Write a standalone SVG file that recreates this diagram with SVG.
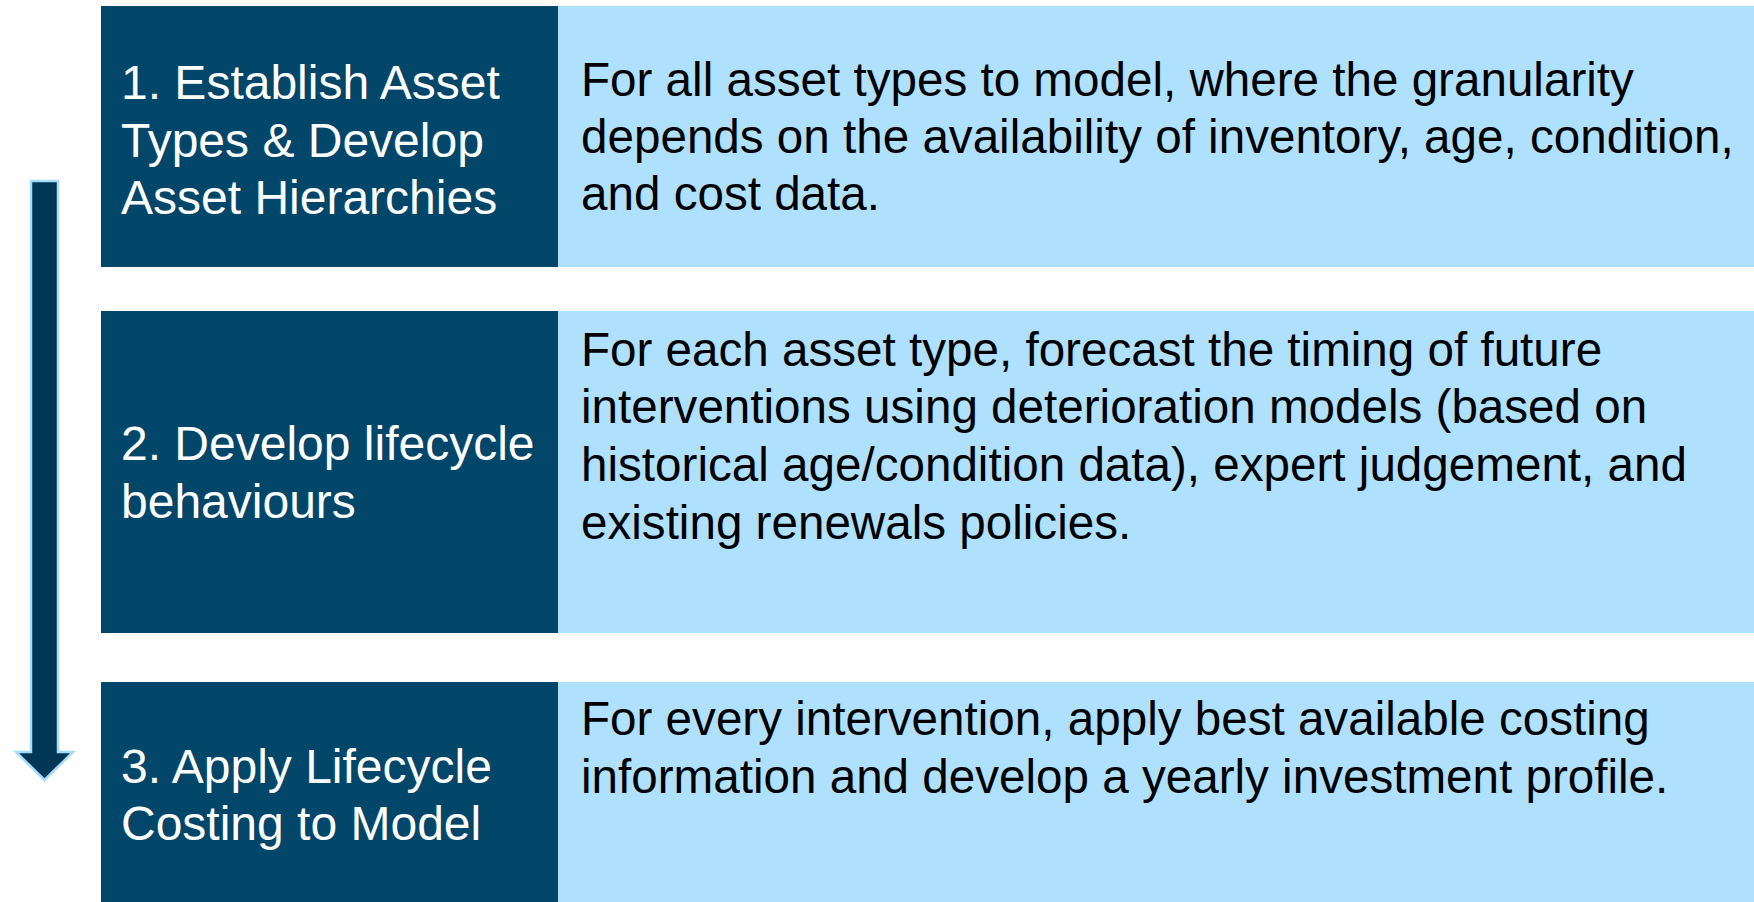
<svg xmlns="http://www.w3.org/2000/svg" width="1754" height="902" viewBox="0 0 1754 902">
<style>
.dark{fill:#02466A}
.light{fill:#AFE1FE}
.t{font-family:"Liberation Sans",Arial,sans-serif;font-size:48px}
.r{font-size:47.6px}
.w{fill:#FFFFFF}
.b{fill:#000000}
</style>
<rect width="1754" height="902" fill="#FFFFFF"/>
<g id="connectors">
<polygon points="31,181 58,181 58,752 73,752 44.5,780 16,752 31,752" fill="#013655" stroke="#A6DCF9" stroke-width="2.5" stroke-linejoin="miter"/>
</g>
<g id="step1">
<rect class="dark" x="101" y="6" width="457" height="261"/>
<rect class="light" x="558" y="6" width="1196" height="261"/>
<text class="t w" x="121"><tspan x="121" y="99">1. Establish Asset</tspan><tspan x="121" y="157">Types &amp; Develop</tspan><tspan x="121" y="214">Asset Hierarchies</tspan></text>
<text class="t r b" x="581"><tspan x="581" y="96">For all asset types to model, where the granularity</tspan><tspan x="581" y="153">depends on the availability of inventory, age, condition,</tspan><tspan x="581" y="210">and cost data.</tspan></text>
</g>
<g id="step2">
<rect class="dark" x="101" y="311" width="457" height="322"/>
<rect class="light" x="558" y="311" width="1196" height="322"/>
<text class="t w" x="121"><tspan x="121" y="460">2. Develop lifecycle</tspan><tspan x="121" y="518">behaviours</tspan></text>
<text class="t r b" x="581"><tspan x="581" y="366">For each asset type, forecast the timing of future</tspan><tspan x="581" y="423">interventions using deterioration models (based on</tspan><tspan x="581" y="481">historical age/condition data), expert judgement, and</tspan><tspan x="581" y="539">existing renewals policies.</tspan></text>
</g>
<g id="step3">
<rect class="dark" x="101" y="682" width="457" height="220"/>
<rect class="light" x="558" y="682" width="1196" height="220"/>
<text class="t w" x="121"><tspan x="121" y="783">3. Apply Lifecycle</tspan><tspan x="121" y="840">Costing to Model</tspan></text>
<text class="t r b" x="581"><tspan x="581" y="735">For every intervention, apply best available costing</tspan><tspan x="581" y="793">information and develop a yearly investment profile.</tspan></text>
</g>
</svg>
